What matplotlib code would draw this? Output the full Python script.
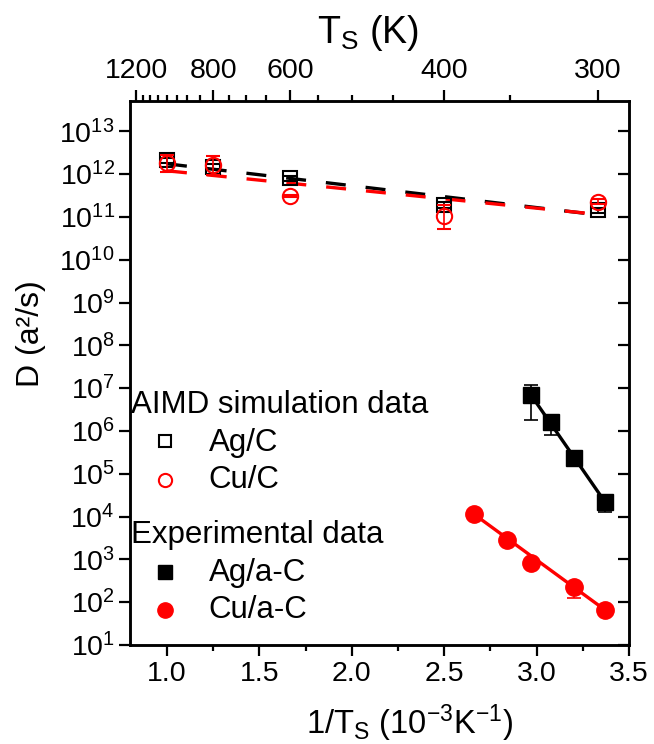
import numpy as np
import matplotlib
matplotlib.use("Agg")
import matplotlib.pyplot as plt
from matplotlib.ticker import FuncFormatter, FixedLocator, NullLocator

plt.rcParams['font.family'] = ['Liberation Sans', 'DejaVu Sans']
plt.rcParams['mathtext.fontset'] = 'custom'
plt.rcParams['mathtext.rm'] = 'Liberation Sans'
plt.rcParams['mathtext.it'] = 'Liberation Sans:italic'

# ---------------- data ----------------
# AIMD simulation (x = 1000/T)
aimd_x = [1.0, 1.25, 1.667, 2.5, 3.333]
ag_c = [2.1e12, 1.5e12, 8.1e11, 1.9e11, 1.45e11]
ag_c_lo = [1.8e12, 1.3e12, 7.0e11, 1.6e11, 1.25e11]
ag_c_hi = [2.4e12, 1.7e12, 9.2e11, 2.2e11, 1.65e11]
cu_c = [1.8e12, 1.6e12, 3.1e11, 1.05e11, 2.3e11]
cu_c_lo = [1.1e12, 9.6e11, 2.9e11, 5.2e10, 2.0e11]
cu_c_hi = [2.8e12, 2.6e12, 3.3e11, 1.9e11, 2.7e11]

# AIMD Arrhenius fits (endpoints)
fit_aimd_x = [1.0, 3.333]
fit_ag_c = [1.75e12, 1.12e11]
fit_cu_c = [1.2e12, 1.15e11]

# Experimental data
ag_exp_x = [2.97, 3.08, 3.20, 3.37]
ag_exp = [6.9e6, 1.6e6, 2.3e5, 2.2e4]
ag_exp_lo = [1.8e6, 8.1e5, 2.0e5, 1.3e4]
ag_exp_hi = [1.17e7, 1.8e6, 2.5e5, 2.4e4]
cu_exp_x = [2.66, 2.84, 2.97, 3.20, 3.37]
cu_exp = [1.15e4, 2.8e3, 8.3e2, 2.3e2, 66]
cu_exp_lo = [1.1e4, 2.7e3, 8.0e2, 1.26e2, 64]
cu_exp_hi = [1.2e4, 2.9e3, 8.6e2, 2.5e2, 68]

# Experimental fits (endpoints)
fit_ag_exp_x = [2.97, 3.37]
fit_ag_exp = [6.9e6, 2.2e4]
fit_cu_exp_x = [2.66, 3.37]
fit_cu_exp = [1.15e4, 66]

# top axis temperatures
top_major_T = [1200, 800, 600, 400, 300]
top_minor_T = [1150, 1100, 1050, 1000, 950, 900, 850, 750, 700, 650,
               550, 500, 450, 350]

y_ticks = [10.0 ** k for k in range(1, 14)]

# ---------------- figure ----------------
fig = plt.figure(figsize=(6.54, 7.44), dpi=100)
ax = fig.add_axes([130 / 654, 1 - 645 / 744, 499 / 654, 544 / 744])

def yerr(v, lo, hi):
    v = np.array(v); return [v - np.array(lo), np.array(hi) - v]

# fits
ax.plot(fit_aimd_x, fit_ag_c, color='black', lw=2.4, dashes=(6, 6), zorder=2)
ax.plot(fit_aimd_x, fit_cu_c, color='red', lw=2.4, dashes=(6, 6), zorder=3)
ax.plot(fit_ag_exp_x, fit_ag_exp, color='black', lw=2.4, zorder=2)
ax.plot(fit_cu_exp_x, fit_cu_exp, color='red', lw=2.4, zorder=2)

# AIMD points
ax.errorbar(aimd_x, ag_c, yerr=yerr(ag_c, ag_c_lo, ag_c_hi), fmt='s', ms=9.5,
            mfc='none', mec='black', mew=1.5, ecolor='black', elinewidth=1.2,
            capsize=5, capthick=1.2, zorder=4)
ax.errorbar(aimd_x, cu_c, yerr=yerr(cu_c, cu_c_lo, cu_c_hi), fmt='o', ms=11,
            mfc='none', mec='red', mew=1.5, ecolor='red', elinewidth=1.2,
            capsize=5, capthick=1.2, zorder=5)

# experimental points
ax.errorbar(ag_exp_x, ag_exp, yerr=yerr(ag_exp, ag_exp_lo, ag_exp_hi), fmt='s',
            ms=11, mfc='black', mec='black', ecolor='black', elinewidth=1.2,
            capsize=5, capthick=1.2, zorder=4)
ax.errorbar(cu_exp_x, cu_exp, yerr=yerr(cu_exp, cu_exp_lo, cu_exp_hi), fmt='o',
            ms=12.5, mfc='red', mec='red', ecolor='red', elinewidth=1.2,
            capsize=5, capthick=1.2, zorder=4)

ax.set_yscale('log')
ax.set_ylim(10, 10 ** 13.71)
ax.set_xlim(0.8, 3.5)
ax.yaxis.set_major_locator(FixedLocator(y_ticks))
ax.yaxis.set_minor_locator(NullLocator())
ax.yaxis.set_major_formatter(FuncFormatter(lambda v, p: r'$\mathregular{10^{%d}}$' % round(np.log10(v))))
ax.set_xticks([1.0, 1.5, 2.0, 2.5, 3.0, 3.5])
ax.set_xticks([1.25, 1.75, 2.25, 2.75, 3.25], minor=True)
ax.xaxis.set_major_formatter(FuncFormatter(lambda v, p: '%.1f' % v))

ax.tick_params(axis='both', which='major', labelsize=20.5, width=1.6, length=8,
               direction='out')
ax.tick_params(axis='x', which='minor', width=1.6, length=4, direction='out')
ax.tick_params(axis='y', which='major', right=True, left=True, pad=3)
for s in ax.spines.values():
    s.set_linewidth(1.8)

ax.set_ylabel('D (a²/s)', fontsize=23)
ax.yaxis.set_label_coords(-0.168, 0.573)
ax.set_xlabel(r'1/T$_\mathregular{S}$ (10$^\mathregular{-3}$K$^\mathregular{-1}$)',
              fontsize=23.5)
ax.xaxis.set_label_coords(0.561, -0.106)

# right ticks point inward
for t in ax.yaxis.get_major_ticks():
    t.tick2line.set_marker(matplotlib.lines.TICKLEFT)
    t.tick2line.set_markersize(8)

# top axis
ax2 = ax.twiny()
ax2.set_xlim(ax.get_xlim())
ax2.set_xticks([1000.0 / T for T in top_major_T])
ax2.set_xticklabels([str(T) for T in top_major_T])
ax2.set_xticks([1000.0 / T for T in top_minor_T], minor=True)
ax2.tick_params(axis='x', which='major', labelsize=20.5, width=1.6, length=8,
                direction='out', pad=4)
ax2.tick_params(axis='x', which='minor', width=1.6, length=4, direction='out')
ax2.set_xlabel(r'T$_\mathregular{S}$ (K)', fontsize=27)
ax2.xaxis.set_label_coords(0.477, 1.106)
for s in ax2.spines.values():
    s.set_linewidth(1.8)

# legend (custom layout)
tr = ax.transAxes
fs = 22.5
ax.text(0.003, 0.427, 'AIMD simulation data', transform=tr, fontsize=fs,
        va='baseline', ha='left')
ax.plot([0.070], [0.375], 's', ms=9, mfc='none', mec='black', mew=1.5,
        transform=tr, clip_on=False)
ax.text(0.158, 0.357, 'Ag/C', transform=tr, fontsize=fs, va='baseline')
ax.plot([0.070], [0.303], 'o', ms=9.5, mfc='none', mec='red', mew=1.5,
        transform=tr, clip_on=False)
ax.text(0.158, 0.289, 'Cu/C', transform=tr, fontsize=fs, va='baseline')
ax.text(0.003, 0.188, 'Experimental data', transform=tr, fontsize=fs,
        va='baseline', ha='left')
ax.plot([0.070], [0.135], 's', ms=10, mfc='black', mec='black',
        transform=tr, clip_on=False)
ax.text(0.158, 0.118, 'Ag/a-C', transform=tr, fontsize=fs, va='baseline')
ax.plot([0.070], [0.064], 'o', ms=11, mfc='red', mec='red',
        transform=tr, clip_on=False)
ax.text(0.158, 0.049, 'Cu/a-C', transform=tr, fontsize=fs, va='baseline')

fig.savefig('out.png', dpi=100)
